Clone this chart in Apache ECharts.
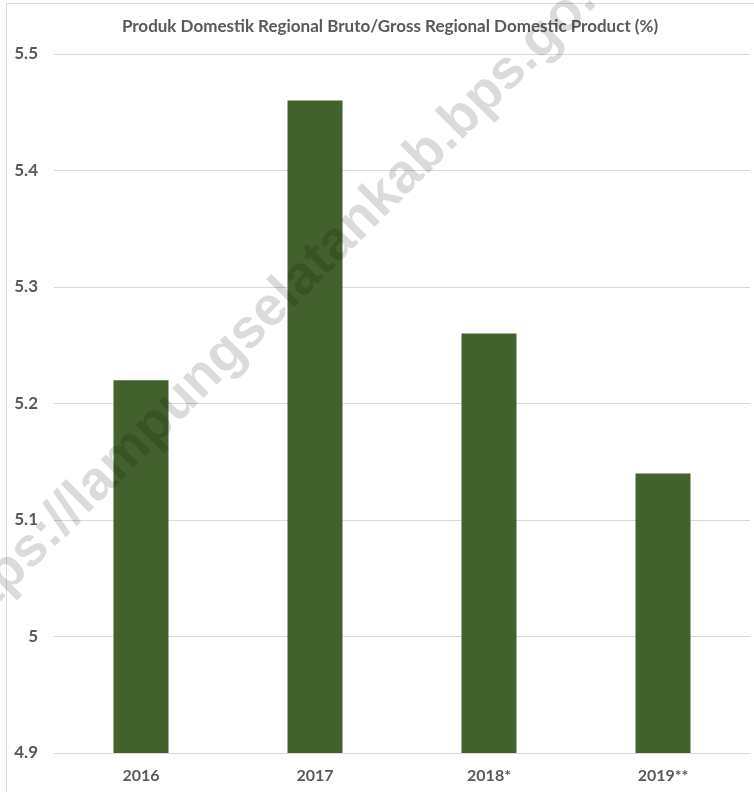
<!DOCTYPE html>
<html>
<head>
<meta charset="utf-8">
<script src="https://cdn.jsdelivr.net/npm/echarts@6/dist/echarts.min.js"></script>
<style>
html,body{margin:0;padding:0;background:#fff;}
#chart{width:754px;height:792px;}
</style>
</head>
<body>
<div id="chart"></div>
<script>
const titleText = "Produk Domestik Regional Bruto/Gross Regional Domestic Product (%)";
const categories = ["2016", "2017", "2018*", "2019**"];
const values = [5.22, 5.46, 5.26, 5.14];
const watermark = "https://lampungselatankab.bps.go.id";

const chart = echarts.init(document.getElementById('chart'), null, {renderer: 'canvas'});
const txt = '#595959';
chart.setOption({
  animation: false,
  backgroundColor: '#ffffff',
  title: {
    text: titleText,
    left: 385, top: 13, textAlign: 'center',
    textStyle: {fontFamily: 'Lato', fontWeight: 'bold', fontSize: 17, color: txt}
  },
  grid: {left: 54, right: 4, top: 54, bottom: 39, containLabel: false},
  xAxis: {
    type: 'category',
    data: categories,
    axisLine: {show: true, lineStyle: {color: '#d9d9d9', width: 1}},
    axisTick: {show: false},
    axisLabel: {color: txt, fontFamily: 'Lato', fontWeight: 'bold', fontSize: 16, margin: 15}
  },
  yAxis: {
    type: 'value',
    min: 4.9, max: 5.5, interval: 0.1,
    axisLine: {show: false},
    axisTick: {show: false},
    splitLine: {lineStyle: {color: '#d9d9d9', width: 1}},
    axisLabel: {color: txt, fontFamily: 'Lato', fontWeight: 'bold', fontSize: 17, margin: 16}
  },
  series: [{
    type: 'bar',
    data: values,
    barWidth: '31.6%',
    itemStyle: {color: '#43612c'},
    z: 2
  }],
  graphic: [
    {
      type: 'rect', silent: true, z: 0,
      shape: {x: 6.5, y: 3.5, width: 800, height: 800},
      style: {fill: 'none', stroke: '#d9d9d9', lineWidth: 1}
    },
    {
      type: 'text', silent: true, z: 100,
      x: 284, y: 296, rotation: Math.PI / 4,
      style: {
        text: watermark,
        fontFamily: 'Liberation Sans, Arial', fontWeight: 'bold', fontSize: 55,
        fill: 'rgba(0,0,0,0.14)', align: 'center', verticalAlign: 'middle'
      }
    }
  ]
});
</script>
</body>
</html>
